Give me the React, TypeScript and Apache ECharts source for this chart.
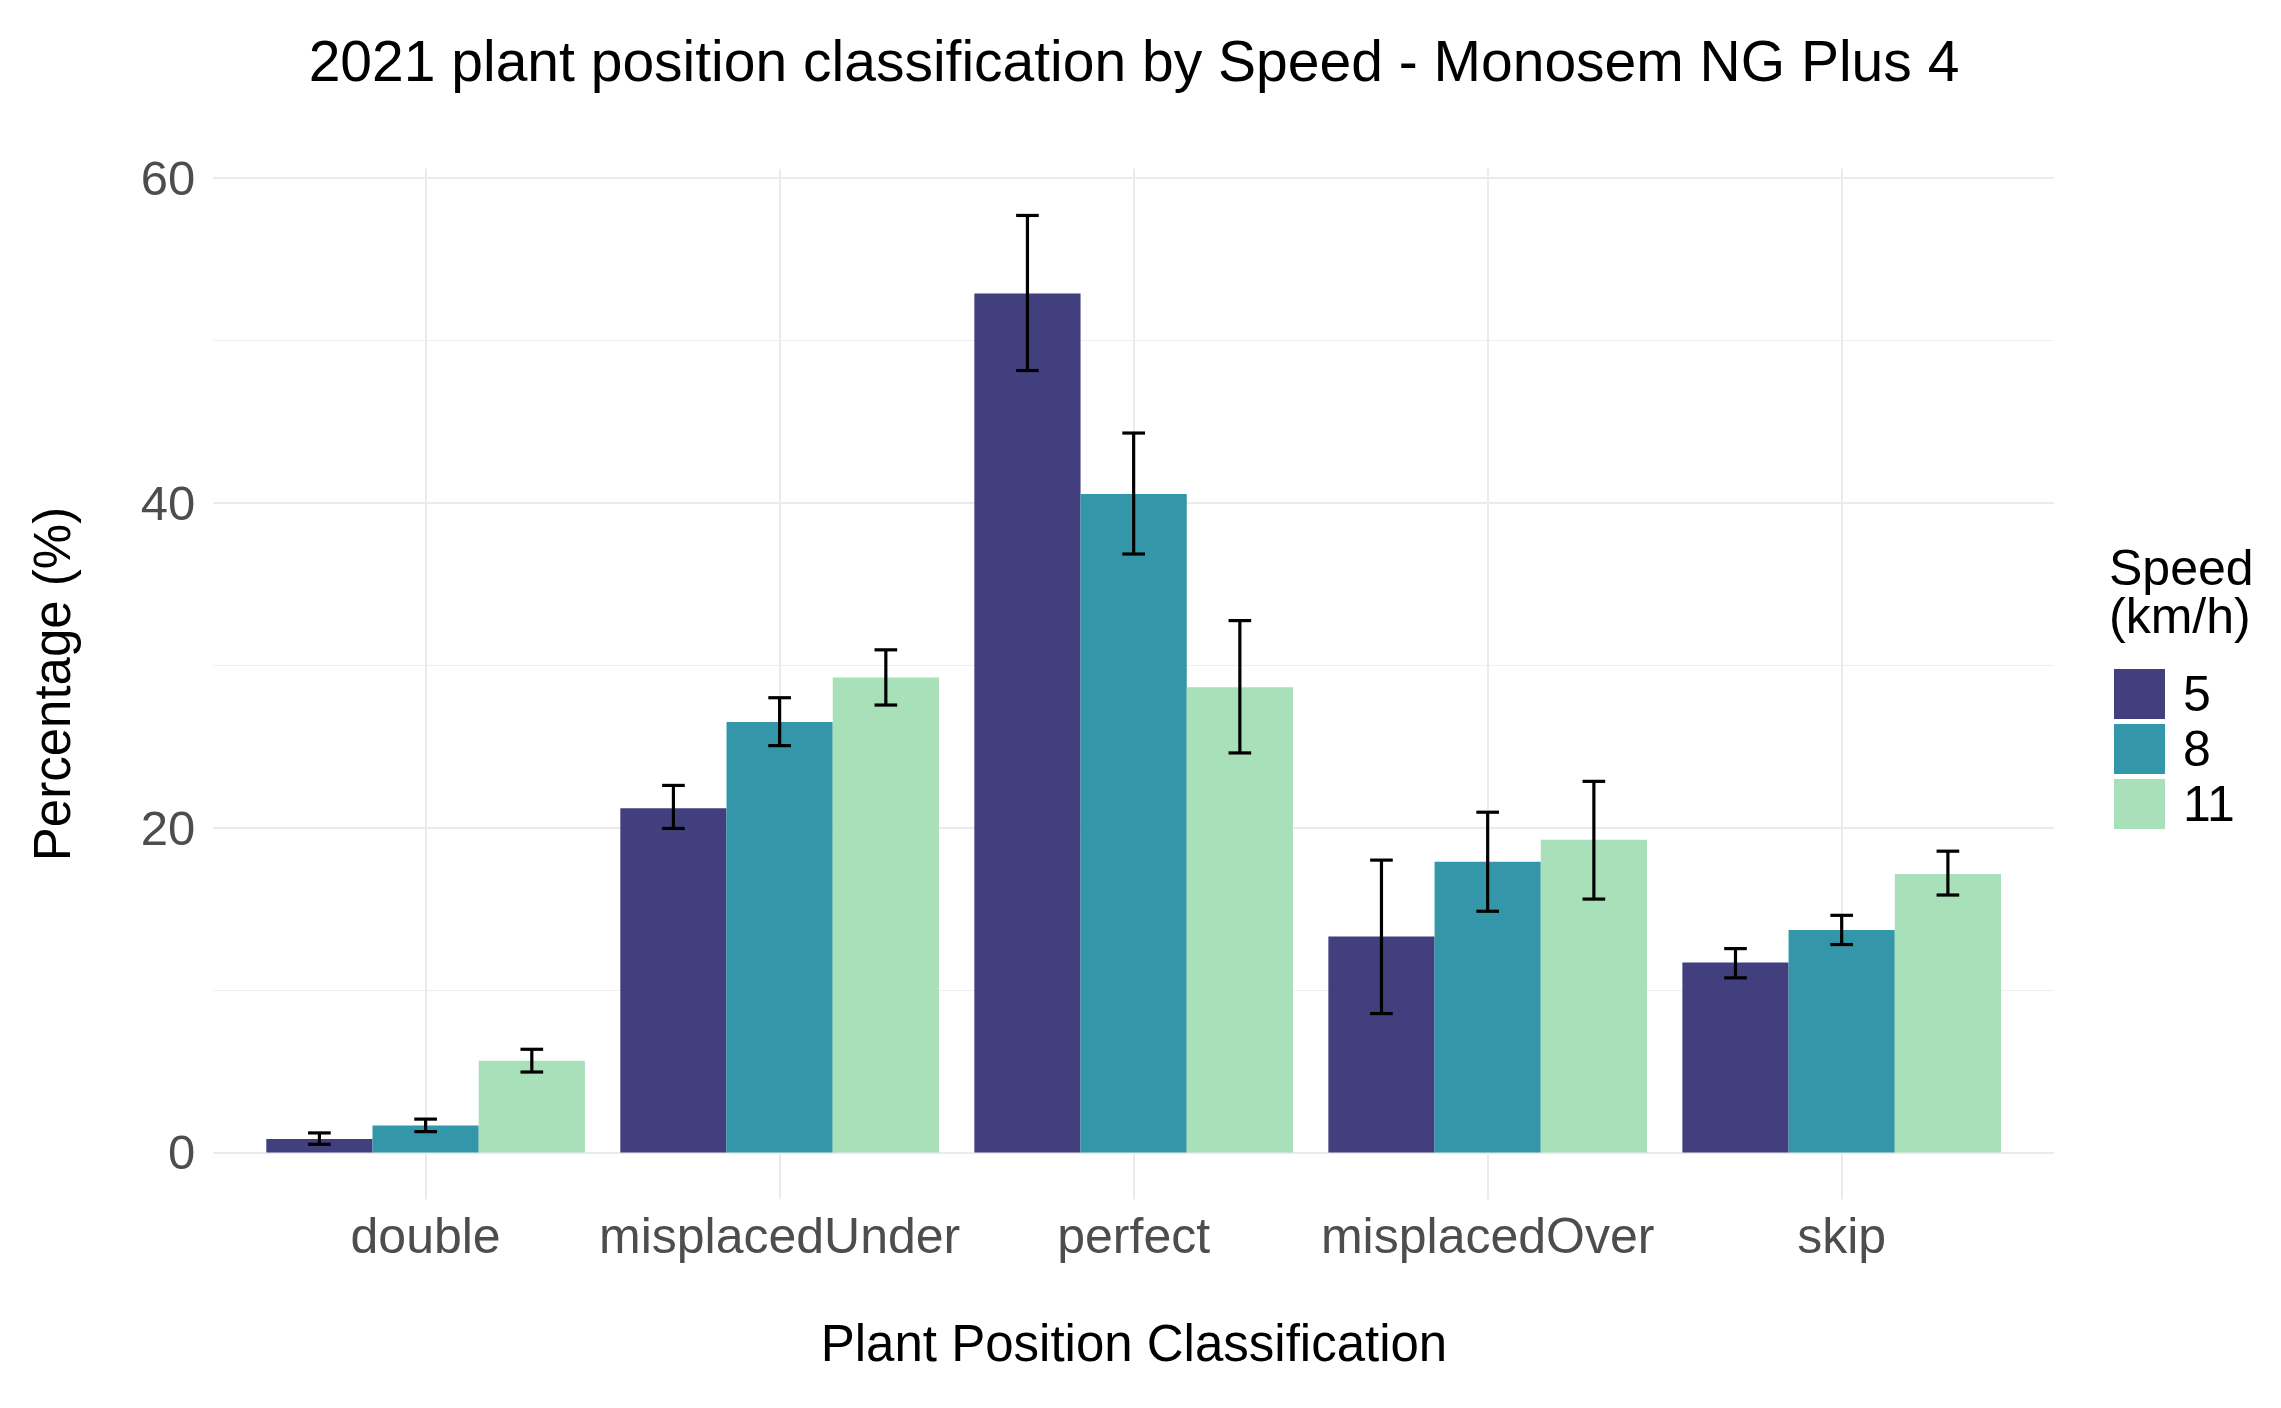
import { useEffect, useRef } from 'react';
import * as echarts from 'echarts';

// plant position classes and planter speeds
const categories = ['double', 'misplacedUnder', 'perfect', 'misplacedOver', 'skip'];
const speeds = ['5', '8', '11'];
const colors = ['#423F7E', '#3396A9', '#A8E0BA'];

// mean percentage per speed, with lower/upper error bar ends
const mean5 = [0.82, 21.2, 52.9, 13.3, 11.7];
const lo5 = [0.5, 19.95, 48.15, 8.55, 10.75];
const hi5 = [1.2, 22.6, 57.7, 18.0, 12.55];

const mean8 = [1.65, 26.5, 40.55, 17.9, 13.7];
const lo8 = [1.28, 25.05, 36.85, 14.85, 12.8];
const hi8 = [2.05, 28.0, 44.3, 20.95, 14.6];

const mean11 = [5.65, 29.25, 28.65, 19.25, 17.15];
const lo11 = [4.95, 27.55, 24.6, 15.6, 15.85];
const hi11 = [6.35, 30.95, 32.75, 22.85, 18.55];

const yTicks = [0, 20, 40, 60];

const FONT = '"Liberation Sans", Arial, Helvetica, sans-serif';

export default function App() {
    const chartRef = useRef<HTMLDivElement>(null);

    useEffect(() => {
        if (!chartRef.current) return;
        const chart = echarts.init(chartRef.current, undefined, { renderer: 'svg' });

        const means = [mean5, mean8, mean11];
        const los = [lo5, lo8, lo11];
        const his = [hi5, hi8, hi11];

        // panel geometry (ggplot-like expansion)
        const panelTop = 168.8;
        const panelBottom = 1199.3;
        const y60 = 178.1;
        const y0 = 1152.4;

        const barSeries = speeds.map((s, i) => ({
            name: s,
            type: 'bar' as const,
            xAxisIndex: 2,
            yAxisIndex: 2,
            barWidth: '30%',
            barGap: '0%',
            itemStyle: { color: colors[i] },
            data: means[i],
            z: 3,
        }));

        const errSeries = speeds.map((s, si) => ({
            type: 'custom' as const,
            xAxisIndex: 2,
            yAxisIndex: 2,
            z: 5,
            encode: { x: 0, y: [1, 2] },
            data: categories.map((_, i) => [i, los[si][i], his[si][i]]),
            renderItem: (_params: any, api: any) => {
                const x = api.value(0);
                const pLo = api.coord([x, api.value(1)]);
                const pHi = api.coord([x, api.value(2)]);
                const band = api.size([1, 0])[0];
                const cx = pLo[0] + (si - 1) * band * 0.3;
                const hw = band * 0.032;
                const style = { stroke: '#000', lineWidth: 3.2 };
                return {
                    type: 'group',
                    children: [
                        { type: 'line', shape: { x1: cx, y1: pLo[1], x2: cx, y2: pHi[1] }, style },
                        { type: 'line', shape: { x1: cx - hw, y1: pHi[1], x2: cx + hw, y2: pHi[1] }, style },
                        { type: 'line', shape: { x1: cx - hw, y1: pLo[1], x2: cx + hw, y2: pLo[1] }, style },
                    ],
                };
            },
        }));

        chart.setOption({
            animation: false,
            backgroundColor: '#fff',
            textStyle: { fontFamily: FONT },
            grid: [
                // horizontal grid lines + y labels
                { left: 213.2, right: 227, top: y60, bottom: 1408 - y0 },
                // vertical grid lines + x labels
                { left: 425.6, right: 439.3, top: panelTop, bottom: 1408 - panelBottom },
                // bars
                { left: 248.6, right: 262.3, top: y60, bottom: 1408 - y0 },
            ],
            xAxis: [
                { gridIndex: 0, type: 'value', min: 0, max: 1, show: false },
                {
                    gridIndex: 1,
                    type: 'category',
                    data: categories,
                    boundaryGap: false,
                    axisLine: { show: false },
                    axisTick: { show: false },
                    axisLabel: { interval: 0, fontSize: 50, color: '#4D4D4D', margin: 12, fontFamily: FONT },
                    splitLine: { show: true, interval: 0, lineStyle: { color: '#EBEBEB', width: 2 } },
                },
                { gridIndex: 2, type: 'category', data: categories, show: false },
            ],
            yAxis: [
                {
                    gridIndex: 0,
                    type: 'value',
                    min: 0,
                    max: 60,
                    interval: 20,
                    axisLine: { show: false },
                    axisTick: { show: false },
                    axisLabel: {
                        fontSize: 49,
                        color: '#4D4D4D',
                        margin: 18,
                        fontFamily: FONT,
                        formatter: (v: number) => (yTicks.includes(v) ? String(v) : ''),
                    },
                    splitLine: { show: true, lineStyle: { color: '#EBEBEB', width: 2 } },
                    minorTick: { show: false, splitNumber: 2 },
                    minorSplitLine: { show: true, lineStyle: { color: '#EFEFEF', width: 1.2 } },
                },
                { gridIndex: 1, type: 'value', min: 0, max: 1, show: false },
                { gridIndex: 2, type: 'value', min: 0, max: 60, show: false },
            ],
            legend: {
                data: speeds,
                orient: 'vertical',
                left: 2109,
                top: 664,
                itemWidth: 51,
                itemHeight: 50,
                itemGap: 5,
                icon: 'rect',
                textStyle: { fontSize: 50, color: '#000', fontFamily: FONT, padding: [0, 0, 0, 13] },
            },
            graphic: [
                {
                    type: 'text',
                    x: 1134,
                    y: 61,
                    style: {
                        text: '2021 plant position classification by Speed - Monosem NG Plus 4',
                        fontSize: 57,
                        fontFamily: FONT,
                        fill: '#000',
                        textAlign: 'center',
                        textVerticalAlign: 'middle',
                    },
                },
                {
                    type: 'text',
                    x: 1134,
                    y: 1343,
                    style: {
                        text: 'Plant Position Classification',
                        fontSize: 51,
                        fontFamily: FONT,
                        fill: '#000',
                        textAlign: 'center',
                        textVerticalAlign: 'middle',
                    },
                },
                {
                    type: 'text',
                    x: 52,
                    y: 684,
                    rotation: Math.PI / 2,
                    style: {
                        text: 'Percentage (%)',
                        fontSize: 51,
                        fontFamily: FONT,
                        fill: '#000',
                        textAlign: 'center',
                        textVerticalAlign: 'middle',
                    },
                },
                {
                    type: 'text',
                    x: 2109,
                    y: 592,
                    style: {
                        text: 'Speed\n(km/h)',
                        fontSize: 50,
                        lineHeight: 48,
                        fontFamily: FONT,
                        fill: '#000',
                        textAlign: 'left',
                        textVerticalAlign: 'middle',
                    },
                },
            ],
            series: [
                // empty anchors so grids 0 and 1 draw their axes
                { type: 'scatter', xAxisIndex: 0, yAxisIndex: 0, data: [], silent: true },
                { type: 'scatter', xAxisIndex: 1, yAxisIndex: 1, data: [], silent: true },
                ...barSeries,
                ...errSeries,
            ],
        });

        return () => {
            chart.dispose();
        };
    }, []);

    return (
        <div
            ref={chartRef}
            style={{ position: 'fixed', left: 0, top: 0, width: 2281, height: 1408 }}
        />
    );
}
